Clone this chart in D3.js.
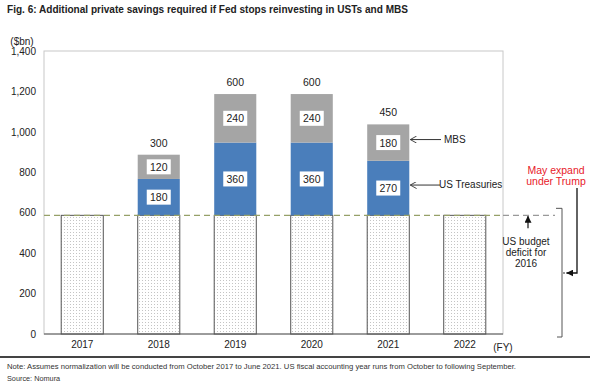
<!DOCTYPE html>
<html>
<head>
<meta charset="utf-8">
<script src="https://cdn.jsdelivr.net/npm/d3@7"></script>
<style>
  body { margin: 0; background: #fff; }
  svg { font-family: "Liberation Sans", Arial, sans-serif; }
</style>
</head>
<body>
<svg id="chart" width="590" height="384"></svg>
<script>
var years = ["2017", "2018", "2019", "2020", "2021", "2022"];
var deficit = [587, 587, 587, 587, 587, 587];
var treasuries = [0, 180, 360, 360, 270, 0];
var mbs = [0, 120, 240, 240, 180, 0];
var yTicks = [0, 200, 400, 600, 800, 1000, 1200, 1400];

var svg = d3.select("#chart");

var plotLeft = 44, plotRight = 503, plotTop = 51, plotBottom = 334;

var x = d3.scaleBand().domain(years).range([plotLeft, plotRight]).paddingInner(0.45).paddingOuter(0.225);
var y = d3.scaleLinear().domain([0, 1400]).range([plotBottom, plotTop]);

// dotted pattern for budget deficit bars
var defs = svg.append("defs");
var pat = defs.append("pattern")
  .attr("id", "dots")
  .attr("width", 3).attr("height", 3)
  .attr("patternUnits", "userSpaceOnUse");
pat.append("rect").attr("width", 3).attr("height", 3).attr("fill", "#fff");
pat.append("rect").attr("x", 1).attr("y", 1).attr("width", 1).attr("height", 1).attr("fill", "#c4c4c4");

// title
svg.append("text")
  .attr("x", 7).attr("y", 13)
  .attr("font-size", 10.5).attr("font-weight", "bold").attr("fill", "#222")
  .attr("textLength", 401).attr("lengthAdjust", "spacingAndGlyphs")
  .text("Fig. 6: Additional private savings required if Fed stops reinvesting in USTs and MBS");

// plot frame
svg.append("rect")
  .attr("x", plotLeft).attr("y", plotTop)
  .attr("width", plotRight - plotLeft).attr("height", plotBottom - plotTop)
  .attr("fill", "none").attr("stroke", "#c8c8c8").attr("stroke-width", 1);

// y axis labels
var yAxis = d3.axisLeft(y).tickValues(yTicks).tickSize(0).tickPadding(8)
  .tickFormat(d3.format(","));
var ya = svg.append("g").attr("transform", "translate(" + plotLeft + ",0)").call(yAxis);
ya.select(".domain").remove();
ya.selectAll("text").attr("font-size", 10).attr("fill", "#222")
  .attr("font-family", "Liberation Sans, Arial, sans-serif");

svg.append("text").attr("x", 22).attr("y", 45).attr("text-anchor", "middle")
  .attr("font-size", 10).attr("fill", "#222").text("($bn)");

// bars
var bw = x.bandwidth();
var g = svg.append("g");

years.forEach(function(yr, i) {
  var x0 = x(yr);
  g.append("rect")
    .attr("x", x0).attr("y", y(deficit[i]))
    .attr("width", bw).attr("height", y(0) - y(deficit[i]))
    .attr("fill", "url(#dots)").attr("stroke", "#555").attr("stroke-width", 1);

  if (treasuries[i] > 0) {
    var b0 = deficit[i], b1 = deficit[i] + treasuries[i], b2 = b1 + mbs[i];
    g.append("rect")
      .attr("x", x0).attr("y", y(b1))
      .attr("width", bw).attr("height", y(b0) - y(b1))
      .attr("fill", "#4a7ebb");
    g.append("rect")
      .attr("x", x0).attr("y", y(b2))
      .attr("width", bw).attr("height", y(b1) - y(b2))
      .attr("fill", "#a5a5a5");

    [[b0, b1, treasuries[i]], [b1, b2, mbs[i]]].forEach(function(s) {
      var cy = (y(s[0]) + y(s[1])) / 2;
      g.append("rect")
        .attr("x", x0 + bw / 2 - 12).attr("y", cy - 7.5)
        .attr("width", 24).attr("height", 15).attr("fill", "#fff");
      g.append("text")
        .attr("x", x0 + bw / 2).attr("y", cy + 4)
        .attr("text-anchor", "middle").attr("font-size", 10.5).attr("fill", "#222")
        .text(s[2]);
    });

    g.append("text")
      .attr("x", x0 + bw / 2).attr("y", y(b2) - 8)
      .attr("text-anchor", "middle").attr("font-size", 10.5).attr("fill", "#222")
      .text(treasuries[i] + mbs[i]);
  }
});

// baseline
svg.append("line")
  .attr("x1", plotLeft).attr("x2", plotRight).attr("y1", y(0)).attr("y2", y(0))
  .attr("stroke", "#555").attr("stroke-width", 1);

// x labels
var xAxis = d3.axisBottom(x).tickSize(0).tickPadding(7);
var xa = svg.append("g").attr("transform", "translate(0," + plotBottom + ")").call(xAxis);
xa.select(".domain").remove();
xa.selectAll("text").attr("font-size", 10).attr("fill", "#222")
  .attr("font-family", "Liberation Sans, Arial, sans-serif");
svg.append("text").attr("x", 503).attr("y", 351).attr("text-anchor", "middle")
  .attr("font-size", 10).attr("fill", "#222").text("(FY)");

// deficit dashed line
var dy = y(deficit[0]);
svg.append("line")
  .attr("x1", plotLeft).attr("x2", plotRight).attr("y1", dy).attr("y2", dy)
  .attr("stroke", "#96a068").attr("stroke-width", 1.2).attr("stroke-dasharray", "6,4");
svg.append("line")
  .attr("x1", plotRight).attr("x2", 555).attr("y1", dy).attr("y2", dy)
  .attr("stroke", "#999").attr("stroke-width", 1.2).attr("stroke-dasharray", "6,4");

// arrow markers
defs.append("marker").attr("id", "openArrow")
  .attr("viewBox", "0 0 10 10").attr("refX", 0).attr("refY", 5)
  .attr("markerWidth", 7).attr("markerHeight", 7).attr("orient", "auto")
  .attr("markerUnits", "userSpaceOnUse")
  .append("path").attr("d", "M9,0 L0,5 L9,10").attr("fill", "none").attr("stroke", "#333").attr("stroke-width", 1.3);
defs.append("marker").attr("id", "solidArrow")
  .attr("viewBox", "0 0 10 10").attr("refX", 9).attr("refY", 5)
  .attr("markerWidth", 7).attr("markerHeight", 7).attr("orient", "auto")
  .attr("markerUnits", "userSpaceOnUse")
  .append("path").attr("d", "M0,0 L10,5 L0,10 z").attr("fill", "#111");

// series annotations for 2021 bar
var i21 = years.indexOf("2021");
var barRight = x("2021") + bw;
var mbsY = (y(deficit[i21] + treasuries[i21]) + y(deficit[i21] + treasuries[i21] + mbs[i21])) / 2;
var ustY = (y(deficit[i21]) + y(deficit[i21] + treasuries[i21])) / 2;
svg.append("line").attr("x1", barRight + 1).attr("x2", 441).attr("y1", mbsY - 3).attr("y2", mbsY - 3)
  .attr("stroke", "#333").attr("marker-start", "url(#openArrow)");
svg.append("text").attr("x", 444).attr("y", mbsY).attr("font-size", 10).attr("fill", "#222").text("MBS");
svg.append("line").attr("x1", barRight + 1).attr("x2", 440).attr("y1", ustY - 3).attr("y2", ustY - 3)
  .attr("stroke", "#333").attr("marker-start", "url(#openArrow)");
svg.append("text").attr("x", 439).attr("y", ustY).attr("font-size", 10).attr("fill", "#222").text("US Treasuries");

// US budget deficit annotation
svg.append("line").attr("x1", 528).attr("x2", 528).attr("y1", dy + 13).attr("y2", dy + 1)
  .attr("stroke", "#111").attr("stroke-width", 1.2).attr("marker-end", "url(#solidArrow)");
svg.append("text").attr("x", 526).attr("y", 245).attr("text-anchor", "middle")
  .attr("font-size", 10).attr("fill", "#222")
  .selectAll("tspan").data(["US budget", "deficit for", "2016"]).join("tspan")
  .attr("x", 526).attr("dy", function(d, k) { return k === 0 ? 0 : 11; })
  .text(function(d) { return d; });

// bracket
svg.append("path")
  .attr("d", "M556," + (dy - 7) + " H562 V" + (plotBottom + 3) + " H557")
  .attr("fill", "none").attr("stroke", "#555").attr("stroke-width", 1);
svg.append("line").attr("x1", 563).attr("x2", 567).attr("y1", 273).attr("y2", 273)
  .attr("stroke", "#333").attr("stroke-dasharray", "2,1");

// May expand under Trump
svg.append("text").attr("x", 556).attr("y", 174).attr("text-anchor", "middle")
  .attr("font-size", 10.5).attr("fill", "#e8202a")
  .selectAll("tspan").data(["May expand", "under Trump"]).join("tspan")
  .attr("x", 556).attr("dy", function(d, k) { return k === 0 ? 0 : 11; })
  .text(function(d) { return d; });
svg.append("path")
  .attr("d", "M577,188 V273 H567")
  .attr("fill", "none").attr("stroke", "#111").attr("stroke-width", 1.3)
  .attr("marker-end", "url(#solidArrow)");

// bottom rule and notes
svg.append("line").attr("x1", 0).attr("x2", 590).attr("y1", 357).attr("y2", 357)
  .attr("stroke", "#444").attr("stroke-width", 2);
svg.append("text").attr("x", 7).attr("y", 369).attr("font-size", 7.3).attr("fill", "#333")
  .attr("textLength", 509).attr("lengthAdjust", "spacingAndGlyphs")
  .text("Note: Assumes normalization will be conducted from October 2017 to June 2021. US fiscal accounting year runs from October to following September.");
svg.append("text").attr("x", 7).attr("y", 381).attr("font-size", 7.3).attr("fill", "#333")
  .text("Source: Nomura");
</script>
</body>
</html>
